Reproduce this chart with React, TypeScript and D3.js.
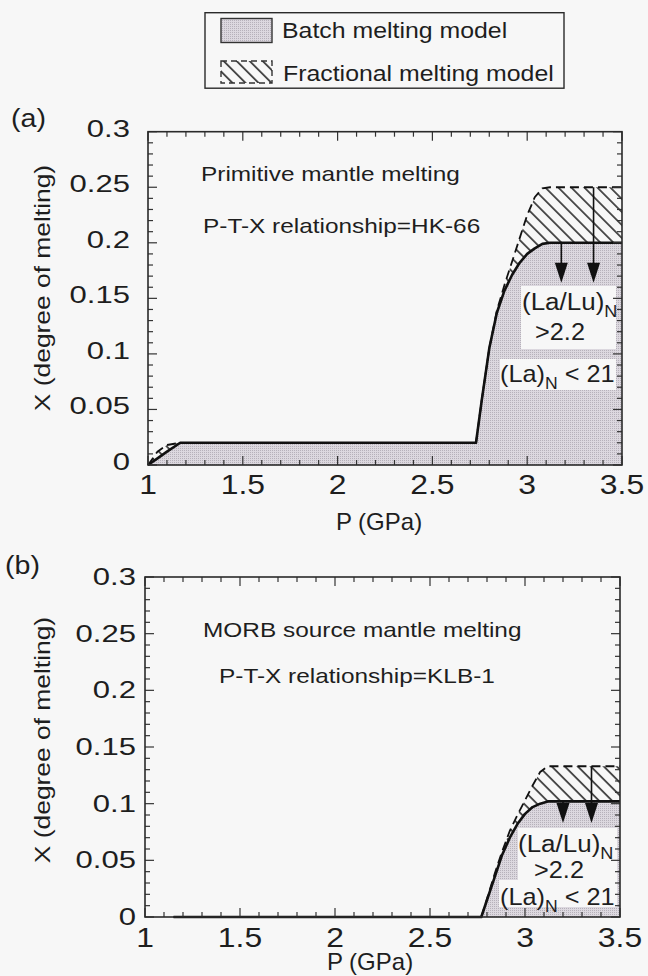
import React from "react";
import * as d3 from "d3";

// ---------- data ----------
const X_TICKS = [1, 1.5, 2, 2.5, 3, 3.5];
const X_TICK_LABELS = ["1", "1.5", "2", "2.5", "3", "3.5"];
const Y_TICKS = [0, 0.05, 0.1, 0.15, 0.2, 0.25, 0.3];
const Y_TICK_LABELS = ["0", "0.05", "0.1", "0.15", "0.2", "0.25", "0.3"];

// Panel (a): Primitive mantle, HK-66
const P_A = [1.0, 1.05, 1.1, 1.17, 2.73, 2.76, 2.8, 2.84, 2.88, 2.92, 2.96, 3.0, 3.04, 3.08, 3.12, 3.5];
const BATCH_A = [0, 0.006, 0.012, 0.02, 0.02, 0.058, 0.105, 0.137, 0.157, 0.171, 0.182, 0.19, 0.195, 0.199, 0.2, 0.2];
const FRAC_A = [0, 0.012, 0.018, 0.02, 0.02, 0.058, 0.105, 0.139, 0.162, 0.183, 0.204, 0.225, 0.241, 0.249, 0.25, 0.25];
const ARROW_P_A = [3.18, 3.35];
const ARROW_FROM_A = [0.2, 0.25];
const ARROW_TO_A = [0.164, 0.164];

// Panel (b): MORB source mantle, KLB-1
const P_B = [1.15, 2.77, 2.8, 2.84, 2.88, 2.92, 2.96, 3.0, 3.04, 3.08, 3.12, 3.5];
const BATCH_B = [0, 0, 0.015, 0.035, 0.055, 0.07, 0.082, 0.091, 0.097, 0.1, 0.102, 0.102];
const FRAC_B = [0, 0, 0.016, 0.038, 0.058, 0.076, 0.09, 0.103, 0.116, 0.128, 0.133, 0.133];
const ARROW_P_B = [3.2, 3.35];
const ARROW_FROM_B = [0.102, 0.133];
const ARROW_TO_B = [0.083, 0.083];

const LEGEND_LABELS = ["Batch melting model", "Fractional melting model"];

const FONT = "'Liberation Sans', Arial, Helvetica, sans-serif";
const INK = "#1e1e1e";

function T({ x, y, size, sx = 1, anchor = "start", rotate = 0, children }: any) {
  return (
    <text
      transform={`translate(${x},${y}) rotate(${rotate}) scale(${sx},1)`}
      fontSize={size}
      textAnchor={anchor}
      fontFamily={FONT}
      fill={INK}
    >
      {children}
    </text>
  );
}

function Panel({ cfg }: any) {
  const { L, R, Tp, B } = cfg.box;
  const x = d3.scaleLinear().domain([1, 3.5]).range([L, R]);
  const y = d3.scaleLinear().domain([0, 0.3]).range([B, Tp]);
  const pts = cfg.P.map((p: number, i: number) => ({ p, b: cfg.batch[i], f: cfg.frac[i] }));

  const batchArea = d3.area<any>().x((d) => x(d.p)).y0(y(0)).y1((d) => y(d.b));
  const hatchArea = d3.area<any>().x((d) => x(d.p)).y0((d) => y(d.b)).y1((d) => y(d.f));
  const batchLine = d3.line<any>().x((d) => x(d.p)).y((d) => y(d.b));
  const fracLine = d3.line<any>().x((d) => x(d.p)).y((d) => y(d.f));

  const xMinor = d3.range(10, 36).map((v) => v / 10);
  const yMinor = d3.range(0, 31).map((v) => v / 100);
  const isMajorX = (v: number) => Math.abs(v * 2 - Math.round(v * 2)) < 1e-6;
  const isMajorY = (v: number) => Math.abs(v * 20 - Math.round(v * 20)) < 1e-6;

  const ticks: any[] = [];
  xMinor.forEach((v, i) => {
    const len = isMajorX(v) ? 9 : 5;
    const xx = x(v);
    ticks.push(<line key={"xb" + i} x1={xx} x2={xx} y1={B} y2={B - len} />);
    ticks.push(<line key={"xt" + i} x1={xx} x2={xx} y1={Tp} y2={Tp + len} />);
  });
  yMinor.forEach((v, i) => {
    const len = isMajorY(v) ? 9 : 5;
    const yy = y(v);
    ticks.push(<line key={"yl" + i} x1={L} x2={L + len} y1={yy} y2={yy} />);
    ticks.push(<line key={"yr" + i} x1={R} x2={R - len} y1={yy} y2={yy} />);
  });

  const clipId = "clip" + cfg.key;
  return (
    <g>
      <defs>
        <clipPath id={clipId}>
          <rect x={L} y={Tp} width={R - L} height={B - Tp} />
        </clipPath>
      </defs>
      <g clipPath={`url(#${clipId})`}>
        <path d={batchArea(pts) || ""} fill="url(#stipple)" />
        {cfg.boxes.map((b: any, i: number) => (
          <rect key={i} x={b[0]} y={b[1]} width={b[2] - b[0]} height={b[3] - b[1]} fill="#f7f7f7" />
        ))}
        <path d={hatchArea(pts) || ""} fill="url(#hatch)" />
      </g>
      <path d={batchLine(pts) || ""} fill="none" stroke="#111" strokeWidth={2.6} strokeLinejoin="round" />
      <path d={fracLine(pts) || ""} fill="none" stroke="#111" strokeWidth={1.8} strokeDasharray="9 5" />
      {cfg.arrowP.map((p: number, i: number) => {
        const xx = x(p);
        const yTip = y(cfg.arrowTo[i]);
        return (
          <g key={"ar" + i}>
            <line x1={xx} x2={xx} y1={y(cfg.arrowFrom[i])} y2={yTip - 18} stroke="#111" strokeWidth={1.6} />
            <path d={`M${xx - 6.5},${yTip - 20}L${xx + 6.5},${yTip - 20}L${xx},${yTip}Z`} fill="#111" />
          </g>
        );
      })}
      <g stroke="#333" strokeWidth={1.2}>{ticks}</g>
      <rect x={L} y={Tp} width={R - L} height={B - Tp} fill="none" stroke="#2a2a2a" strokeWidth={1.6} />

      {X_TICKS.map((v, i) => (
        <T key={"xl" + i} x={x(v)} y={cfg.xLabelY} size={27} sx={1.18} anchor="middle">
          {X_TICK_LABELS[i]}
        </T>
      ))}
      {Y_TICKS.map((v, i) => (
        <T key={"yl" + i} x={cfg.yLabelX} y={y(v) + cfg.yLabelDy} size={23} sx={1.35} anchor="end">
          {Y_TICK_LABELS[i]}
        </T>
      ))}
      <T x={cfg.xTitle[0]} y={cfg.xTitle[1]} size={24} sx={1.0} anchor="middle">P (GPa)</T>
      <T x={50} y={cfg.yTitleY} size={22} sx={1.2} anchor="middle" rotate={-90}>X (degree of melting)</T>
      <T x={cfg.tag[0]} y={cfg.tag[1]} size={26} sx={1.1}>{cfg.tagText}</T>
      <T x={cfg.note1[0]} y={cfg.note1[1]} size={20} sx={1.22}>{cfg.note1Text}</T>
      <T x={cfg.note2[0]} y={cfg.note2[1]} size={20} sx={1.22}>{cfg.note2Text}</T>

      <T x={cfg.lalu[0]} y={cfg.lalu[1]} size={23} sx={1.13}>
        (La/Lu)<tspan fontSize={16} dy={7}>N</tspan>
      </T>
      <T x={cfg.gt[0]} y={cfg.gt[1]} size={23} sx={1.1} anchor="middle">{">2.2"}</T>
      <T x={cfg.la[0]} y={cfg.la[1]} size={23} sx={1.1}>
        (La)<tspan fontSize={16} dy={7}>N</tspan>
        <tspan dy={-7}>{" < 21"}</tspan>
      </T>
    </g>
  );
}

export default function App() {
  const W = 648;
  const H = 976;
  const panelA = {
    key: "a",
    P: P_A, batch: BATCH_A, frac: FRAC_A,
    arrowP: ARROW_P_A, arrowFrom: ARROW_FROM_A, arrowTo: ARROW_TO_A,
    box: { L: 148, R: 622, Tp: 131.7, B: 465 },
    boxes: [[521, 286, 616, 349], [500, 359, 616, 390]],
    xLabelY: 494, yLabelX: 130, yLabelDy: 5,
    xTitle: [379, 530], yTitleY: 288,
    tag: [11, 127], tagText: "(a)",
    note1: [201, 181], note1Text: "Primitive mantle melting",
    note2: [203, 233], note2Text: "P-T-X relationship=HK-66",
    lalu: [522, 310], gt: [560, 340], la: [500, 382],
  };
  const panelB = {
    key: "b",
    P: P_B, batch: BATCH_B, frac: FRAC_B,
    arrowP: ARROW_P_B, arrowFrom: ARROW_FROM_B, arrowTo: ARROW_TO_B,
    box: { L: 145, R: 620, Tp: 577, B: 917 },
    boxes: [[518, 828, 617, 907], [499, 880, 617, 907]],
    xLabelY: 947, yLabelX: 136, yLabelDy: 8,
    xTitle: [370, 970], yTitleY: 740,
    tag: [5, 574], tagText: "(b)",
    note1: [203, 637], note1Text: "MORB source mantle melting",
    note2: [219, 683], note2Text: "P-T-X relationship=KLB-1",
    lalu: [518, 852], gt: [559, 878], la: [500, 905],
  };

  return (
    <svg width={W} height={H} style={{ position: "absolute", left: 0, top: 0, background: "#f7f7f7" }}>
      <defs>
        <pattern id="stipple" width={2} height={2} patternUnits="userSpaceOnUse">
          <rect width={2} height={2} fill="#dcd8df" />
          <rect width={1} height={1} fill="#b6b1ba" />
        </pattern>
        <pattern id="hatch" width={9.2} height={9.2} patternUnits="userSpaceOnUse" patternTransform="rotate(-45)">
          <line x1={4.6} y1={-1} x2={4.6} y2={10.2} stroke="#111" strokeWidth={1.4} />
        </pattern>
      </defs>
      <rect width={W} height={H} fill="#f7f7f7" />

      {/* legend */}
      <rect x={205} y={12.7} width={359} height={75.5} fill="none" stroke="#2a2a2a" strokeWidth={1.4} />
      <rect x={221} y={18.5} width={51} height={24} fill="url(#stipple)" stroke="#333" strokeWidth={1.4} />
      <rect x={221} y={61} width={51} height={22} fill="url(#hatch)" stroke="#333" strokeWidth={1.4} strokeDasharray="6 4" />
      <T x={282} y={37.5} size={22} sx={1.13}>{LEGEND_LABELS[0]}</T>
      <T x={283} y={81} size={22} sx={1.13}>{LEGEND_LABELS[1]}</T>

      <Panel cfg={panelA} />
      <Panel cfg={panelB} />
    </svg>
  );
}
